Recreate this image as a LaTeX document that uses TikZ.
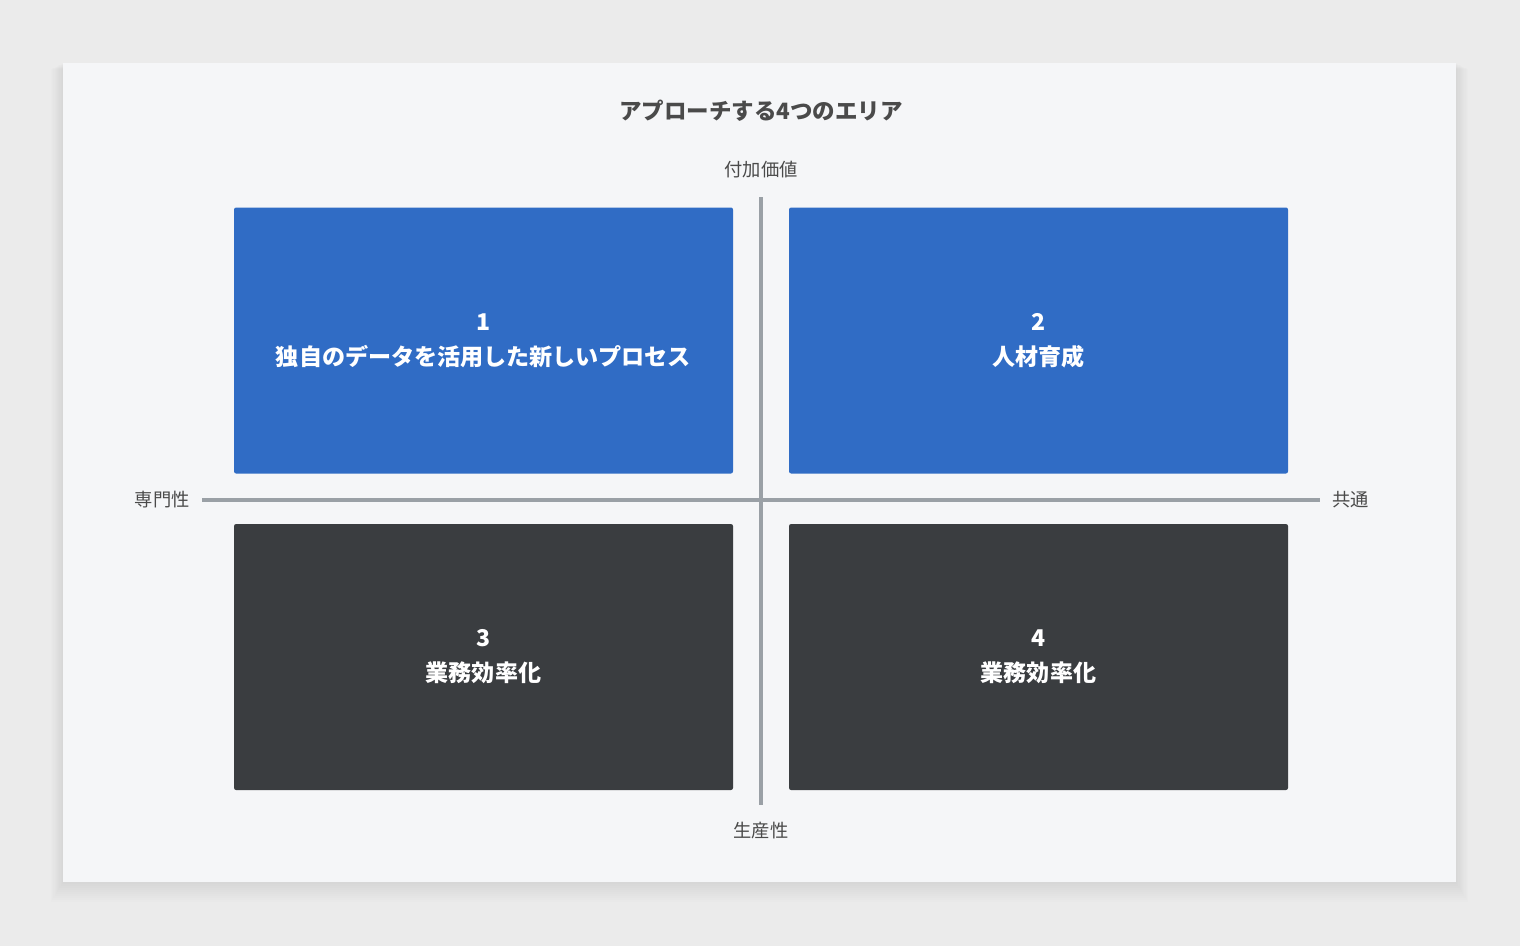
\documentclass[tikz,border=0pt]{standalone}
\usepackage{fontspec}
\newfontfamily\jp{Noto Sans CJK JP}
\usetikzlibrary{positioning}
\definecolor{pagebg}{HTML}{EBEBEB}
\definecolor{cardbg}{HTML}{F5F6F8}
\definecolor{qblue}{HTML}{306CC5}
\definecolor{qdark}{HTML}{3A3D40}
\definecolor{axisgray}{HTML}{9AA0A6}
\definecolor{txtgray}{HTML}{4A4A4A}
\tikzset{
  quad/.style={rounded corners=1.5pt, minimum width=499*0.025cm, minimum height=266*0.025cm, inner sep=0pt, text=white, align=center, font=\jp\bfseries\fontsize{16.4}{25}\selectfont},
  axislabel/.style={text=txtgray, font=\jp\fontsize{13}{15}\selectfont, inner sep=0pt}
}
\begin{document}
\begin{tikzpicture}[x=0.025cm, y=-0.025cm]
        \fill[pagebg] (0,0) rectangle (1520,946);
        \useasboundingbox (0,0) rectangle (1520,946);
        % soft shadow under the card
        \foreach \s in {2,4,...,20}
          \fill[black, opacity=0.006] (63-\s*0.6,63+\s*0.3) rectangle (1456+\s*0.6,882+\s);
        \fill[cardbg] (63,63) rectangle (1456,882);

        \node[text=txtgray, font=\jp\bfseries\fontsize{16}{18}\selectfont] (title) at (761,111) {アプローチする4つのエリア};

        \node[quad, fill=qblue] (1) at (483.5,340.5) {1\\独自のデータを活用した新しいプロセス};
        \node[quad, fill=qblue] (2) at (1038.5,340.5) {2\\人材育成};
        \node[quad, fill=qdark] (3) at (483.5,657) {3\\業務効率化};
        \node[quad, fill=qdark] (4) at (1038.5,657) {4\\業務効率化};

        \node[axislabel] (top) at (761,170) {付加価値};
        \node[axislabel] (bottom) at (761,831) {生産性};
        \node[axislabel, anchor=east] (left) at (190,500) {専門性};
        \node[axislabel, anchor=west] (right) at (1332,500) {共通};

        \coordinate (vtop) at (761,197);
        \coordinate (vbot) at (761,805);
        \coordinate (hleft) at (202,500);
        \coordinate (hright) at (1320,500);
        \draw[axisgray, line width=2.2pt] (vtop) -- (vbot);
        \draw[axisgray, line width=2.2pt] (hleft) -- (hright);
      \end{tikzpicture}
\end{document}
